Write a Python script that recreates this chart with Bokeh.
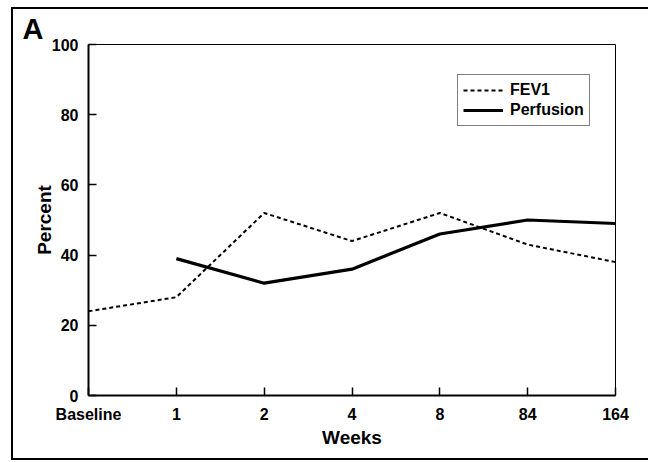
import numpy as np
from bokeh.plotting import figure
from bokeh.models import Range1d, FixedTicker, Legend, Title
from bokeh.embed import file_html
from bokeh.resources import INLINE

categories = ["Baseline", "1", "2", "4", "8", "84", "164"]
fev1 = [24, 28, 52, 44, 52, 43, 38]
perfusion = [np.nan, 39, 32, 36, 46, 50, 49]
y_ticks = [0, 20, 40, 60, 80, 100]

xpos = list(range(len(categories)))
FONT = "Liberation Sans"

p = figure(width=637, height=453, output_backend="svg", toolbar_location=None,
           x_range=Range1d(0, len(categories) - 1), y_range=Range1d(0, 100),
           min_border_left=75, min_border_right=35, min_border_top=35, min_border_bottom=67)
p.styles = {"margin-left": "11px", "margin-top": "7px",
            "border-left": "2px solid black", "border-top": "2px solid black",
            "border-bottom": "2px solid black", "border-right": "0px solid white"}

p.grid.visible = False
p.outline_line_color = "black"
p.outline_line_width = 1
p.background_fill_color = "white"
p.border_fill_color = "white"

r1 = p.line(xpos, fev1, line_color="black", line_width=2, line_dash="4 3")
r2 = p.line(xpos, perfusion, line_color="black", line_width=3.2)

xa = p.xaxis[0]
xa.ticker = FixedTicker(ticks=xpos)
xa.major_label_overrides = {i: c for i, c in zip(xpos, categories)}
xa.axis_label = "Weeks"
ya = p.yaxis[0]
ya.ticker = FixedTicker(ticks=y_ticks)
ya.axis_label = "Percent"

for ax in (xa, ya):
    ax.axis_line_width = 2
    ax.axis_line_color = "black"
    ax.major_tick_in = 8
    ax.major_tick_out = 0
    ax.major_tick_line_width = 1.5
    ax.minor_tick_line_color = None
    ax.major_label_text_font = FONT
    ax.major_label_text_font_style = "bold"
    ax.major_label_text_font_size = "16px"
    ax.major_label_text_color = "black"
    ax.axis_label_text_font = FONT
    ax.axis_label_text_font_style = "bold"
    ax.axis_label_text_font_size = "19px"
    ax.axis_label_text_color = "black"
xa.major_label_standoff = 10
xa.axis_label_standoff = 1
ya.major_label_standoff = 10
ya.axis_label_standoff = -6

legend = Legend(items=[("FEV1", [r1]), ("Perfusion", [r2])],
                location=(369, 269))
legend.border_line_color = "black"
legend.border_line_width = 1
legend.background_fill_alpha = 1
legend.padding = 5
legend.spacing = 0
legend.margin = 0
legend.glyph_width = 40
legend.glyph_height = 20
legend.label_height = 20
legend.label_standoff = 7
legend.label_text_font = FONT
legend.label_text_font_style = "bold"
legend.label_text_font_size = "16px"
legend.label_text_color = "black"
p.add_layout(legend)

title = Title(text="A", align="left", offset=-66, standoff=0,
              text_font=FONT, text_font_style="bold", text_font_size="29px",
              text_color="black", text_line_height=0.9)
p.add_layout(title, "above")

open("out.html", "w").write(file_html(p, INLINE))
